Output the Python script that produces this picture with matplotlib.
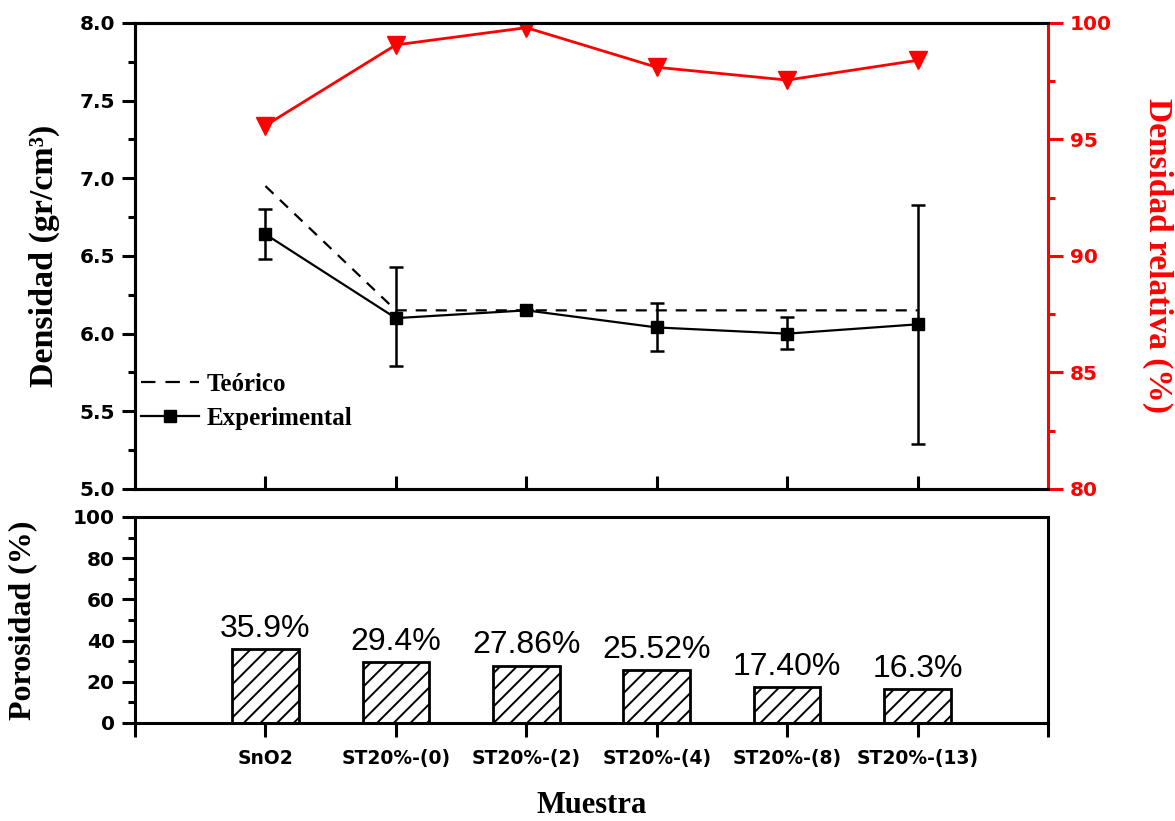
import matplotlib
matplotlib.use("Agg")
import matplotlib.pyplot as plt
from matplotlib.lines import Line2D
import numpy as np
from matplotlib.ticker import MultipleLocator, FixedLocator

# ---- data ----
samples = ["SnO2", "ST20%-(0)", "ST20%-(2)", "ST20%-(4)", "ST20%-(8)", "ST20%-(13)"]
dens_theoretical = [6.95, 6.15, 6.15, 6.15, 6.15, 6.15]
dens_experimental = [6.64, 6.10, 6.15, 6.04, 6.00, 6.06]
err_upper = [6.80, 6.43, 6.15, 6.20, 6.11, 6.83]
err_lower = [6.48, 5.79, 6.15, 5.89, 5.90, 5.29]
dens_relative = [95.6, 99.06, 99.8, 98.1, 97.55, 98.4]
porosity = [35.9, 29.4, 27.86, 25.52, 17.40, 16.3]
porosity_labels = ["35.9%", "29.4%", "27.86%", "25.52%", "17.40%", "16.3%"]

plt.rcParams["hatch.linewidth"] = 1.4
SERIF = "Liberation Serif"
SANS = "Liberation Sans"
TICKFONT = "DejaVu Sans"
SPINE_W = 2.2


def style_ticklabels(labels, size, color=None):
    for lbl in labels:
        lbl.set_fontfamily(TICKFONT)
        lbl.set_fontweight("bold")
        lbl.set_fontsize(size)
        if color:
            lbl.set_color(color)


fig = plt.figure(figsize=(11.75, 8.21), dpi=100)
ax1 = fig.add_axes([0.1149, 0.4044, 0.7770, 0.5676])
ax3 = fig.add_axes([0.1149, 0.1194, 0.7770, 0.2509])
ax2 = ax1.twinx()

x = np.arange(1, len(samples) + 1)
yerr = [np.array(dens_experimental) - np.array(err_lower),
        np.array(err_upper) - np.array(dens_experimental)]

# ---- top panel: density ----
ax1.plot(x, dens_theoretical, color="black", lw=1.6, ls=(0, (5, 4)))
ax1.errorbar(x, dens_experimental, yerr=yerr, color="black", lw=1.6, marker="s",
             ms=9, capsize=5, capthick=1.8, elinewidth=1.8)
ax1.set_xlim(0, 7)
ax1.set_ylim(5.0, 8.0)
ax1.yaxis.set_major_locator(MultipleLocator(0.5))
ax1.yaxis.set_minor_locator(MultipleLocator(0.25))
ax1.yaxis.set_major_formatter(matplotlib.ticker.FormatStrFormatter("%.1f"))
ax1.xaxis.set_major_locator(FixedLocator(x))
ax1.set_xticklabels([])
ax1.tick_params(axis="x", direction="in", length=9.5, width=SPINE_W, top=False)
ax1.tick_params(axis="y", which="major", direction="out", length=9.5, width=SPINE_W, pad=5)
ax1.tick_params(axis="y", which="minor", direction="out", length=5, width=SPINE_W)
style_ticklabels(ax1.get_yticklabels(), 14.5)
ax1.set_ylabel("Densidad (gr/cm³)", fontsize=24.5, fontfamily=SERIF, fontweight="bold")
ax1.yaxis.set_label_coords(-0.082, 0.5)
for s in ax1.spines.values():
    s.set_linewidth(SPINE_W)
ax1.spines["right"].set_visible(False)

legend_handles = [
    Line2D([], [], color="black", lw=1.6, ls=(0, (6.5, 4.5))),
    Line2D([], [], color="black", lw=1.6, marker="s", ms=9),
]
ax1.legend(legend_handles, ["Teórico", "Experimental"], loc="center left",
           bbox_to_anchor=(0.007, 0.188), frameon=False, numpoints=1,
           handlelength=2.3, handletextpad=0.3, labelspacing=0.42,
           borderaxespad=0, borderpad=0,
           prop={"family": SERIF, "weight": "bold", "size": 18})

# ---- relative density (right axis) ----
ax2.plot(x, dens_relative, color="red", lw=2, marker="v", ms=13)
ax2.set_ylim(80, 100)
ax2.yaxis.set_major_locator(MultipleLocator(5))
ax2.yaxis.set_minor_locator(MultipleLocator(2.5))
ax2.tick_params(axis="y", which="major", colors="red", direction="out", length=10.5,
                width=SPINE_W, pad=5)
ax2.tick_params(axis="y", which="minor", colors="red", direction="out", length=5,
                width=SPINE_W)
style_ticklabels(ax2.get_yticklabels(), 14.5, "red")
ax2.set_ylabel("Densidad relativa (%)", fontsize=24, fontfamily=SERIF,
               fontweight="bold", color="red", rotation=270, va="center")
ax2.yaxis.set_label_coords(1.12, 0.5)
for s in ax2.spines.values():
    s.set_linewidth(SPINE_W)
ax2.spines["right"].set_color("red")

# ---- bottom panel: porosity ----
ax3.bar(x, porosity, width=0.51, facecolor="white", edgecolor="black",
        lw=2, hatch="//")
for xi, val, txt in zip(x, porosity, porosity_labels):
    ax3.annotate(txt, (xi, val), xytext=(0, 9), textcoords="offset points",
                 ha="center", va="baseline", fontsize=23, fontfamily=SANS)
ax3.set_xlim(0, 7)
ax3.set_ylim(0, 100)
ax3.yaxis.set_major_locator(MultipleLocator(20))
ax3.yaxis.set_minor_locator(MultipleLocator(10))
ax3.xaxis.set_major_locator(FixedLocator(np.arange(0, 8)))
ax3.set_xticklabels([""] + samples + [""])
ax3.tick_params(axis="x", direction="out", length=10, width=SPINE_W, pad=9)
ax3.tick_params(axis="y", which="major", direction="out", length=9.5, width=SPINE_W, pad=5)
ax3.tick_params(axis="y", which="minor", direction="out", length=5, width=SPINE_W)
style_ticklabels(ax3.get_yticklabels(), 14.5)
style_ticklabels(ax3.get_xticklabels(), 13.5)
ax3.set_ylabel("Porosidad (%)", fontsize=23, fontfamily=SERIF, fontweight="bold")
ax3.yaxis.set_label_coords(-0.107, 0.5)
ax3.set_xlabel("Muestra", fontsize=22, fontfamily=SERIF, fontweight="bold")
ax3.xaxis.set_label_coords(0.5, -0.33)
for s in ax3.spines.values():
    s.set_linewidth(SPINE_W)

fig.savefig("out.png", dpi=100)
